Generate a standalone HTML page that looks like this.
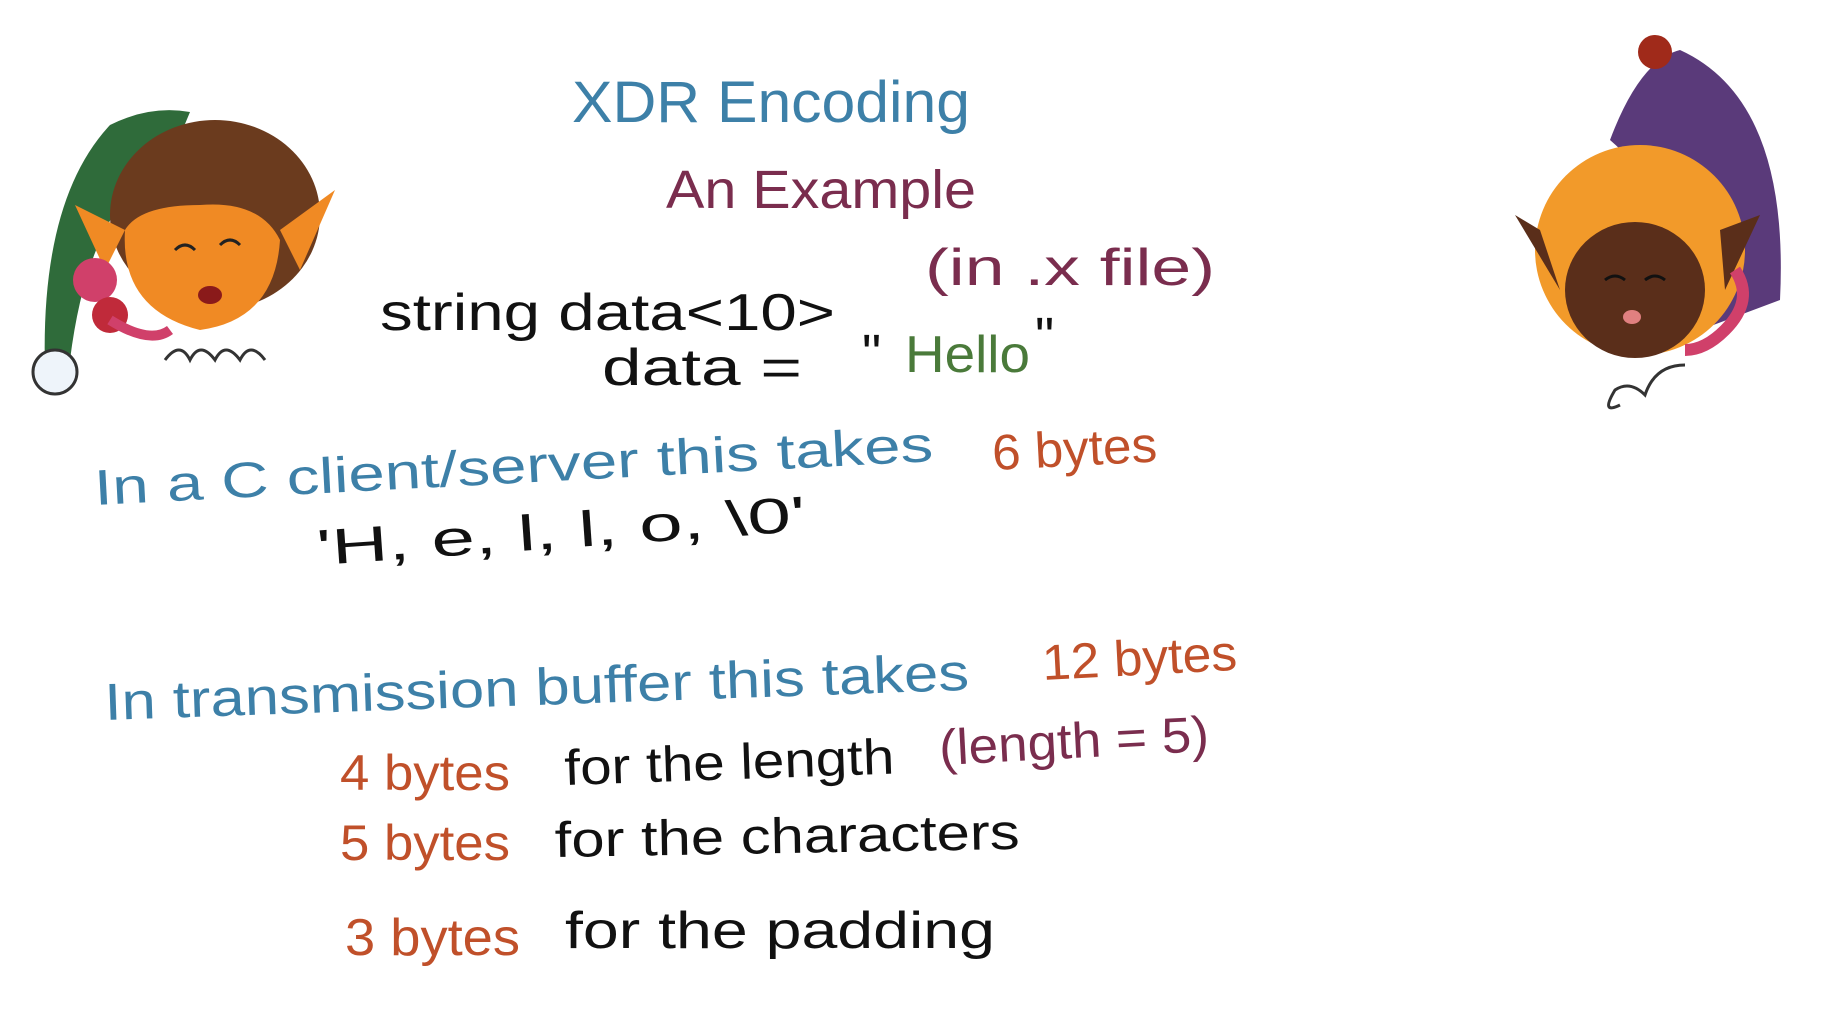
<!DOCTYPE html>
<html><head><meta charset="utf-8"><style>
html,body{margin:0;padding:0;background:#fff;}
svg{display:block}
text{font-family:"Liberation Sans",sans-serif;}
</style></head><body>
<svg width="1832" height="1018" viewBox="0 0 1832 1018" xmlns="http://www.w3.org/2000/svg">
<rect width="1832" height="1018" fill="#fff"/>
<!-- left elf -->
<g>
<path d="M45 370 Q40 200 110 125 Q150 105 190 112 L170 160 Q90 200 70 360 Z" fill="#2f6b3a"/>
<ellipse cx="215" cy="215" rx="105" ry="95" fill="#6b3b1e"/>
<path d="M125 230 Q120 310 200 330 Q275 320 280 240 Q260 200 200 205 Q140 205 125 230Z" fill="#f08a24"/>
<path d="M280 230 L335 190 L300 270Z" fill="#f08a24"/>
<path d="M125 230 L75 205 L105 270Z" fill="#f08a24"/>
<circle cx="95" cy="280" r="22" fill="#d0406a"/><circle cx="110" cy="315" r="18" fill="#c02a3a"/>
<path d="M110 320 Q150 345 170 330" stroke="#d0406a" stroke-width="10" fill="none"/>
<path d="M165 360 q15 -20 25 0 q10 -20 25 0 q10 -20 25 0 q10 -20 25 0" stroke="#333" stroke-width="3" fill="none"/>
<circle cx="55" cy="372" r="22" fill="#eef4fa" stroke="#333" stroke-width="3"/>
<path d="M175 250 q10 -10 20 0 M220 245 q10 -10 20 0" stroke="#222" stroke-width="3" fill="none"/>
<ellipse cx="210" cy="295" rx="12" ry="9" fill="#8a1a1a"/>
</g>
<!-- right elf -->
<g>
<path d="M1610 140 Q1640 60 1680 50 Q1790 100 1780 300 L1700 330 Q1680 200 1610 140Z" fill="#5a3a7a"/>
<circle cx="1655" cy="52" r="17" fill="#a02a1a"/>
<ellipse cx="1640" cy="250" rx="105" ry="105" fill="#f29a2a"/>
<ellipse cx="1635" cy="290" rx="70" ry="68" fill="#5a2e1a"/>
<path d="M1540 230 L1515 215 L1560 290Z" fill="#5a2e1a"/>
<path d="M1720 230 L1760 215 L1725 290Z" fill="#5a2e1a"/>
<path d="M1735 270 q20 30 -10 60 q-20 20 -40 20" stroke="#d0406a" stroke-width="12" fill="none"/>
<path d="M1620 405 q-20 10 -5 -15 q15 -10 30 5 q10 -30 40 -30" stroke="#333" stroke-width="3" fill="none"/>
<path d="M1605 280 q10 -8 20 0 M1645 280 q10 -8 20 0" stroke="#111" stroke-width="3" fill="none"/>
<ellipse cx="1632" cy="317" rx="9" ry="7" fill="#e08080"/>
</g>
<!-- text -->
<text x="572" y="122" font-size="58" fill="#3d80a8" textLength="398" lengthAdjust="spacingAndGlyphs">XDR  Encoding</text>
<text x="666" y="208" font-size="54" fill="#7a2d4e" textLength="310" lengthAdjust="spacingAndGlyphs">An Example</text>
<text x="380" y="330" font-size="52" fill="#111" textLength="455" lengthAdjust="spacingAndGlyphs">string  data&lt;10&gt;</text>
<text x="925" y="285" font-size="52" fill="#7a2d4e" textLength="290" lengthAdjust="spacingAndGlyphs">(in .x file)</text>
<text x="602" y="385" font-size="52" fill="#111" textLength="200" lengthAdjust="spacingAndGlyphs">data  =</text>
<text x="862" y="372" font-size="54" fill="#111">"</text>
<text x="905" y="372" font-size="52" fill="#4a7a3a" textLength="125" lengthAdjust="spacingAndGlyphs">Hello</text>
<text x="1035" y="355" font-size="54" fill="#111">"</text>
<text x="95" y="505" font-size="50" fill="#3d80a8" textLength="840" lengthAdjust="spacingAndGlyphs" transform="rotate(-3 95 505)">In a  C client/server this takes</text>
<text x="993" y="470" font-size="50" fill="#c0502a" textLength="165" lengthAdjust="spacingAndGlyphs" transform="rotate(-3 993 470)">6 bytes</text>
<text x="318" y="565" font-size="50" fill="#111" textLength="490" lengthAdjust="spacingAndGlyphs" transform="rotate(-4 318 565)">'H, e, l, l, o, \0'</text>
<text x="105" y="720" font-size="52" fill="#3d80a8" textLength="865" lengthAdjust="spacingAndGlyphs" transform="rotate(-2 105 720)">In transmission buffer this takes</text>
<text x="1043" y="680" font-size="50" fill="#c0502a" textLength="195" lengthAdjust="spacingAndGlyphs" transform="rotate(-3 1043 680)">12 bytes</text>
<text x="340" y="790" font-size="50" fill="#c0502a" textLength="170" lengthAdjust="spacingAndGlyphs">4 bytes</text>
<text x="565" y="785" font-size="50" fill="#111" textLength="330" lengthAdjust="spacingAndGlyphs" transform="rotate(-2 565 785)">for the length</text>
<text x="940" y="765" font-size="50" fill="#7a2d4e" textLength="270" lengthAdjust="spacingAndGlyphs" transform="rotate(-3 940 765)">(length = 5)</text>
<text x="340" y="860" font-size="50" fill="#c0502a" textLength="170" lengthAdjust="spacingAndGlyphs">5 bytes</text>
<text x="555" y="857" font-size="50" fill="#111" textLength="465" lengthAdjust="spacingAndGlyphs" transform="rotate(-1 555 857)">for the  characters</text>
<text x="345" y="955" font-size="52" fill="#c0502a" textLength="175" lengthAdjust="spacingAndGlyphs">3 bytes</text>
<text x="565" y="948" font-size="52" fill="#111" textLength="430" lengthAdjust="spacingAndGlyphs">for  the  padding</text>
</svg>
</body></html>
